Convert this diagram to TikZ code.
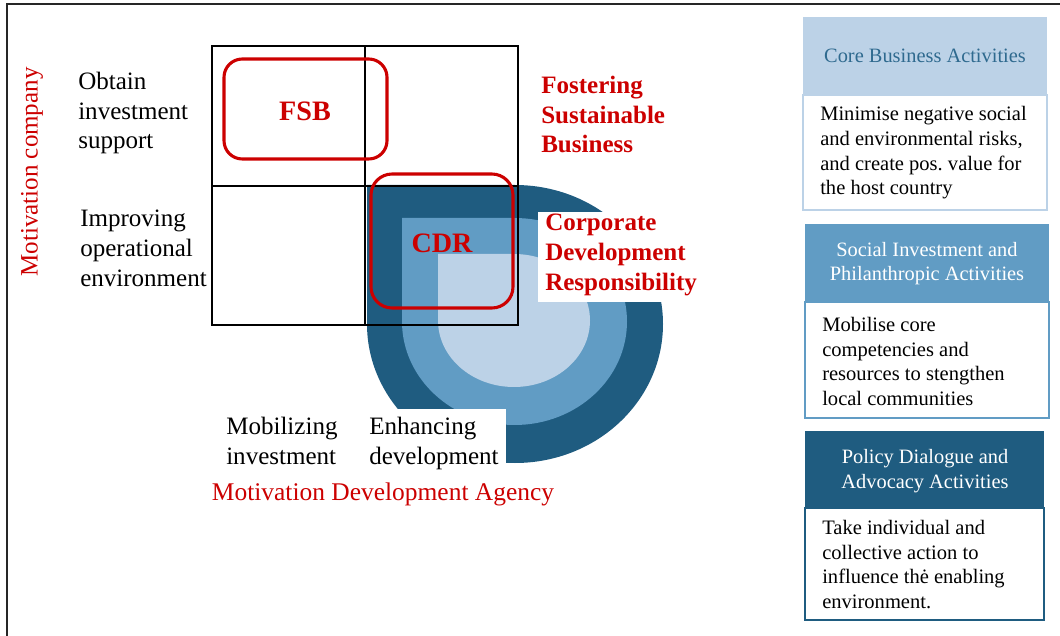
\documentclass[tikz,border=0pt]{standalone}
\usepackage{fontspec}
\setmainfont{Liberation Serif}
\definecolor{dkblue}{HTML}{1F5C80}
\definecolor{mdblue}{HTML}{619CC4}
\definecolor{ltblue}{HTML}{BCD2E7}
\definecolor{hdtext}{HTML}{2F6A8F}
\definecolor{cdred}{HTML}{CC0000}

\begin{document}
\begin{tikzpicture}[x=0.025cm, y=-0.025cm,
    lbl/.style={align=left, anchor=west, inner sep=0pt, font=\fontsize{17.8}{21.3}\selectfont},
    redlbl/.style={lbl, text=cdred, font=\bfseries\fontsize{17.8}{21.3}\selectfont},
    hdr/.style={align=center, inner sep=0pt, font=\fontsize{14.5}{17.4}\selectfont},
    txt/.style={align=left, anchor=west, inner sep=0pt, font=\fontsize{14.6}{17.5}\selectfont},
    redbox/.style={draw=cdred, line width=2.2pt, rounded corners=13pt}]
  \useasboundingbox (0,0) rectangle (1060,636);
  \draw[line width=1.4pt, black!85] (7,636) -- (7,4) -- (1060,4);

  % nested rings, square corner top left
  \foreach \cx/\cy/\rx/\ry/\col in {515/324/148/139/dkblue, 514.5/321.5/112.5/103.5/mdblue, 514/320.5/76/66.5/ltblue}
    \fill[\col] (\cx-\rx,\cy) -- (\cx-\rx,\cy-\ry) -- (\cx,\cy-\ry)
      arc[start angle=-90, end angle=180, x radius=\rx, y radius=\ry] -- cycle;
  \fill[white] (365,409) rectangle (506,480);
  \fill[white] (538,212) rectangle (702,302);

  % 2x2 grid
  \draw[line width=1pt] (212,46) rectangle (518,325);
  \draw[line width=1pt] (365,46) -- (365,325) (212,186) -- (518,186);
  \draw[redbox] (224,59) rectangle (387,159);
  \draw[redbox, rounded corners=15pt] (371,174) rectangle (513,308);
  \node (fsb) [redlbl, anchor=center, font=\bfseries\fontsize{20}{24}\selectfont] at (305,111) {FSB};
  \node (cdr) [redlbl, anchor=center, font=\bfseries\fontsize{20}{24}\selectfont] at (442,243) {CDR};

  \node (obtain) [lbl] at (78,113) {Obtain\\investment\\support};
  \node (improve) [lbl] at (80,248.5) {Improving\\operational\\environment};
  \node (mobil) [lbl] at (226,440.5) {Mobilizing\\investment};
  \node (enhance) [lbl] at (369,443.5) {Enhancing\\development};
  \node (foster) [redlbl] at (541,114.5) {Fostering\\Sustainable\\Business};
  \node (corp) [redlbl] at (545,254.5) {Corporate\\Development\\Responsibility};
  \node (agency) [lbl, anchor=center, text=cdred, font=\fontsize{18.1}{21.3}\selectfont] at (383,494) {Motivation Development Agency};
  \node (company) [lbl, anchor=center, text=cdred, rotate=90] at (32,172) {Motivation company};

  % activity boxes
  \fill[ltblue] (803,17) rectangle (1047,95);
  \draw[ltblue, line width=1pt] (803,95) rectangle (1047,210);
  \node (coreHd) [hdr, text=hdtext] at (925,56) {Core Business Activities};
  \node (coreTx) [txt] at (820,153) {Minimise negative social\\and environmental risks,\\and create pos.\ value for\\the host country};

  \fill[mdblue] (805,224) rectangle (1049,302);
  \draw[mdblue, line width=1pt] (805,302) rectangle (1049,418);
  \node (socHd) [hdr, text=white] at (927,263.5) {Social Investment and\\Philanthropic Activities};
  \node (socTx) [txt] at (822,361.5) {Mobilise core\\competencies and\\resources to stengthen\\local communities};

  \fill[dkblue] (805,431) rectangle (1044,508);
  \draw[dkblue, line width=1pt] (805,508) rectangle (1044,620);
  \node (polHd) [hdr, text=white] at (925,471) {Policy Dialogue and\\Advocacy Activities};
  \node (polTx) [txt] at (822,564.5) {Take individual and\\collective action to\\influence thė enabling\\environment.};
\end{tikzpicture}
\end{document}
